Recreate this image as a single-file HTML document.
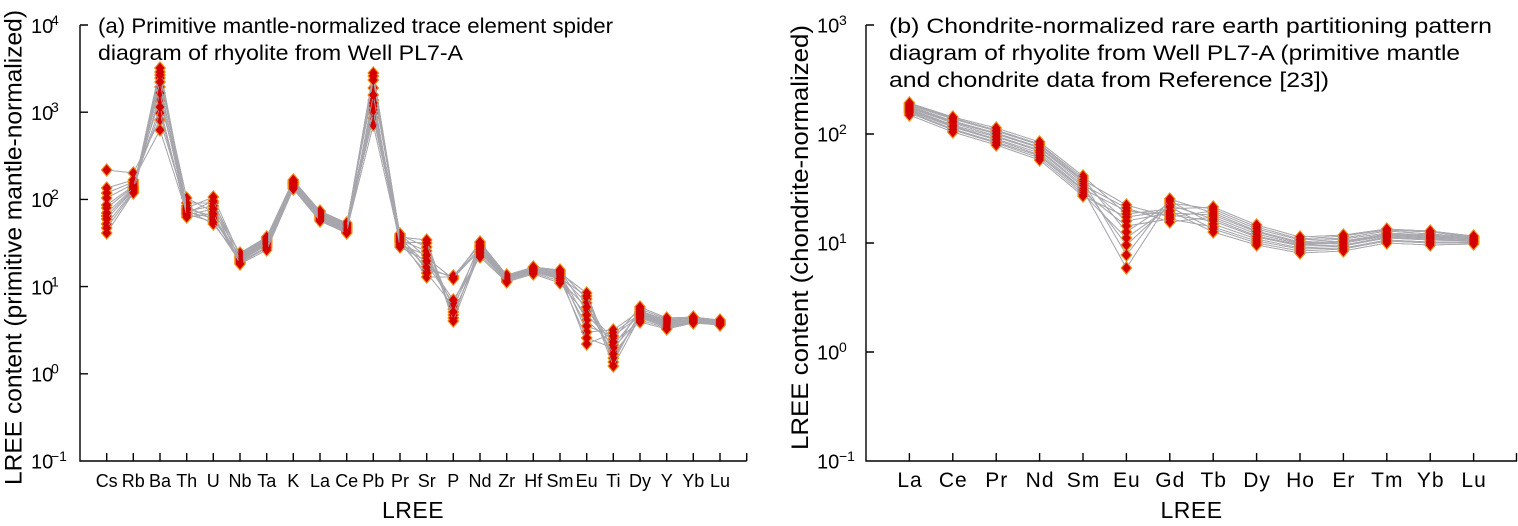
<!DOCTYPE html>
<html>
<head>
<meta charset="utf-8">
<style>
html,body{margin:0;padding:0;background:#fff;}
svg{display:block;}
text{font-family:"Liberation Sans",Arial,sans-serif;fill:#000;}
</style>
</head>
<body>
<svg width="1518" height="526" viewBox="0 0 1518 526" xmlns="http://www.w3.org/2000/svg">
<defs>
<marker id="mo" markerUnits="userSpaceOnUse" markerWidth="16" markerHeight="18" refX="8" refY="9" overflow="visible">
<path d="M8,2 L14,9 L8,16 L2,9Z" fill="#F28A12"/>
</marker>
<marker id="mr" markerUnits="userSpaceOnUse" markerWidth="16" markerHeight="18" refX="8" refY="9" overflow="visible">
<path d="M8,3.8 L12.4,9 L8,14.2 L3.6,9Z" fill="#D40000"/>
</marker>
</defs>

<!-- ============ LEFT PANEL ============ -->
<text x="98" y="33" font-size="21" textLength="515" lengthAdjust="spacingAndGlyphs">(a) Primitive mantle-normalized trace element spider</text>
<text x="98" y="60" font-size="21" textLength="365" lengthAdjust="spacingAndGlyphs">diagram of rhyolite from Well PL7-A</text>

<text transform="translate(21.7,485) rotate(-90)" font-size="24" textLength="475" lengthAdjust="spacingAndGlyphs">LREE content (primitive mantle-normalized)</text>
<text x="413" y="518" font-size="23" text-anchor="middle" letter-spacing="0.5">LREE</text>

<g stroke="#000" stroke-width="1.4" fill="none">
<path d="M80,25 V461 H746.7"/>
<path d="M80,25 h8 M80,112.2 h8 M80,199.4 h8 M80,286.6 h8 M80,373.8 h8"/>
<path d="M106.7,461 v-8 M133.3,461 v-8 M160,461 v-8 M186.7,461 v-8 M213.3,461 v-8 M240,461 v-8 M266.7,461 v-8 M293.3,461 v-8 M320,461 v-8 M346.7,461 v-8 M373.3,461 v-8 M400,461 v-8 M426.7,461 v-8 M453.3,461 v-8 M480,461 v-8 M506.7,461 v-8 M533.3,461 v-8 M560,461 v-8 M586.7,461 v-8 M613.3,461 v-8 M640,461 v-8 M666.7,461 v-8 M693.3,461 v-8 M720,461 v-8 M746.7,461 v-8"/>
</g>

<g font-size="20">
<text x="31" y="33">10</text><text x="51" y="25" font-size="14">4</text>
<text x="31" y="120">10</text><text x="51" y="112" font-size="14">3</text>
<text x="31" y="207">10</text><text x="51" y="199" font-size="14">2</text>
<text x="31" y="294.5">10</text><text x="51" y="286.5" font-size="14">1</text>
<text x="31" y="381.5">10</text><text x="51" y="373.5" font-size="14">0</text>
<text x="31" y="468.5">10</text><text x="51" y="461" font-size="14">−1</text>
</g>

<g font-size="18" text-anchor="middle">
<text x="106.7" y="487">Cs</text><text x="133.3" y="487">Rb</text><text x="160" y="487">Ba</text><text x="186.7" y="487">Th</text><text x="213.3" y="487">U</text><text x="240" y="487">Nb</text><text x="266.7" y="487">Ta</text><text x="293.3" y="487">K</text><text x="320" y="487">La</text><text x="346.7" y="487">Ce</text><text x="373.3" y="487">Pb</text><text x="400" y="487">Pr</text><text x="426.7" y="487">Sr</text><text x="453.3" y="487">P</text><text x="480" y="487">Nd</text><text x="506.7" y="487">Zr</text><text x="533.3" y="487">Hf</text><text x="560" y="487">Sm</text><text x="586.7" y="487">Eu</text><text x="613.3" y="487">Ti</text><text x="640" y="487">Dy</text><text x="666.7" y="487">Y</text><text x="693.3" y="487">Yb</text><text x="720" y="487">Lu</text>
</g>

<g id="L" fill="none" stroke="#A6A6AC" stroke-width="0.8">
<polyline points="106.7,208 133.3,187 160,78 186.7,198 213.3,212 240,253 266.7,237 293.3,180 320,211 346.7,223 373.3,88 400,234 426.7,258 453.3,279 480,242 506.7,275 533.3,267 560,270 586.7,311 613.3,339 640,307 666.7,318 693.3,317 720,320"/>
<polyline points="106.7,193 133.3,182 160,100 186.7,203 213.3,203 240,254 266.7,238 293.3,181 320,212 346.7,224 373.3,106 400,235 426.7,247 453.3,309 480,243 506.7,276 533.3,268 560,271 586.7,299 613.3,351 640,309 666.7,319 693.3,318 720,321"/>
<polyline points="106.7,224 133.3,191 160,68 186.7,206 213.3,220 240,255 266.7,239 293.3,182 320,213 346.7,225 373.3,73 400,236 426.7,270 453.3,276 480,245 506.7,276 533.3,268 560,272 586.7,332 613.3,330 640,311 666.7,320 693.3,318 720,321"/>
<polyline points="106.7,170 133.3,173 160,120 186.7,208 213.3,197 240,256 266.7,240 293.3,183 320,214 346.7,226 373.3,118 400,237 426.7,240 453.3,318 480,246 506.7,277 533.3,269 560,273 586.7,293 613.3,362 640,312 666.7,321 693.3,319 720,322"/>
<polyline points="106.7,216 133.3,189 160,87 186.7,209 213.3,216 240,257 266.7,241 293.3,183 320,215 346.7,227 373.3,100 400,238 426.7,264 453.3,303 480,247 506.7,277 533.3,269 560,274 586.7,320 613.3,345 640,313 666.7,322 693.3,319 720,322"/>
<polyline points="106.7,233 133.3,193 160,72 186.7,210 213.3,224 240,258 266.7,242 293.3,184 320,216 346.7,228 373.3,76 400,239 426.7,277 453.3,277 480,248 506.7,278 533.3,270 560,275 586.7,344 613.3,333 640,314 666.7,323 693.3,320 720,323"/>
<polyline points="106.7,198 133.3,184 160,113 186.7,211 213.3,206 240,259 266.7,243 293.3,185 320,216 346.7,228 373.3,113 400,240 426.7,251 453.3,315 480,249 506.7,278 533.3,270 560,276 586.7,303 613.3,358 640,315 666.7,324 693.3,320 720,323"/>
<polyline points="106.7,219 133.3,190 160,75 186.7,212 213.3,218 240,260 266.7,244 293.3,185 320,217 346.7,229 373.3,80 400,241 426.7,267 453.3,278 480,250 506.7,279 533.3,271 560,277 586.7,326 613.3,336 640,316 666.7,325 693.3,321 720,323"/>
<polyline points="106.7,188 133.3,180 160,130 186.7,213 213.3,201 240,261 266.7,245 293.3,186 320,218 346.7,230 373.3,125 400,242 426.7,243 453.3,321 480,252 506.7,279 533.3,271 560,278 586.7,296 613.3,366 640,317 666.7,326 693.3,321 720,324"/>
<polyline points="106.7,228 133.3,192 160,93 186.7,214 213.3,222 240,262 266.7,247 293.3,187 320,219 346.7,231 373.3,103 400,243 426.7,273 453.3,306 480,253 506.7,280 533.3,272 560,279 586.7,338 613.3,348 640,318 666.7,327 693.3,322 720,324"/>
<polyline points="106.7,205 133.3,186 160,107 186.7,215 213.3,209 240,263 266.7,248 293.3,188 320,220 346.7,232 373.3,110 400,245 426.7,255 453.3,312 480,255 506.7,281 533.3,273 560,281 586.7,307 613.3,354 640,320 666.7,328 693.3,322 720,325"/>
<polyline points="106.7,213 133.3,188 160,82 186.7,217 213.3,214 240,264 266.7,250 293.3,189 320,221 346.7,233 373.3,95 400,247 426.7,261 453.3,300 480,257 506.7,282 533.3,274 560,283 586.7,315 613.3,342 640,322 666.7,329 693.3,323 720,325"/>
</g>

<!-- ============ RIGHT PANEL ============ -->
<text x="889" y="33" font-size="21" textLength="603" lengthAdjust="spacingAndGlyphs">(b) Chondrite-normalized rare earth partitioning pattern</text>
<text x="889" y="60" font-size="21" textLength="571" lengthAdjust="spacingAndGlyphs">diagram of rhyolite from Well PL7-A (primitive mantle</text>
<text x="889" y="87" font-size="21" textLength="440" lengthAdjust="spacingAndGlyphs">and chondrite data from Reference [23])</text>

<text transform="translate(808,450) rotate(-90)" font-size="24" textLength="425" lengthAdjust="spacingAndGlyphs">LREE content (chondrite-normalized)</text>
<text x="1191.5" y="518" font-size="23" text-anchor="middle" letter-spacing="0.5">LREE</text>

<g stroke="#000" stroke-width="1.4" fill="none">
<path d="M866,25 V461 H1517"/>
<path d="M866,25 h8 M866,134 h8 M866,243 h8 M866,352 h8"/>
<path d="M909.4,461 v-8 M952.8,461 v-8 M996.2,461 v-8 M1039.6,461 v-8 M1083,461 v-8 M1126.4,461 v-8 M1169.8,461 v-8 M1213.2,461 v-8 M1256.6,461 v-8 M1300,461 v-8 M1343.4,461 v-8 M1386.8,461 v-8 M1430.2,461 v-8 M1473.6,461 v-8 M1516.5,461 v-8"/>
</g>

<g font-size="20">
<text x="817" y="32.5">10</text><text x="839" y="25" font-size="14">3</text>
<text x="817" y="141.5">10</text><text x="839" y="134" font-size="14">2</text>
<text x="817" y="250.5">10</text><text x="839" y="243" font-size="14">1</text>
<text x="817" y="359.5">10</text><text x="839" y="352" font-size="14">0</text>
<text x="817" y="468.5">10</text><text x="839" y="461" font-size="14">−1</text>
</g>

<g font-size="21" text-anchor="middle" letter-spacing="1">
<text x="910" y="487">La</text><text x="953.3" y="487">Ce</text><text x="996.7" y="487">Pr</text><text x="1040.1" y="487">Nd</text><text x="1083.5" y="487">Sm</text><text x="1126.9" y="487">Eu</text><text x="1170.3" y="487">Gd</text><text x="1213.7" y="487">Tb</text><text x="1257.1" y="487">Dy</text><text x="1300.5" y="487">Ho</text><text x="1343.9" y="487">Er</text><text x="1387.3" y="487">Tm</text><text x="1430.7" y="487">Yb</text><text x="1474.1" y="487">Lu</text>
</g>

<g id="R" fill="none" stroke="#A6A6AC" stroke-width="0.8">
<polyline points="909.4,103 952.8,117 996.2,128 1039.6,142 1083,176 1126.4,214 1169.8,209 1213.2,207 1256.6,225 1300,237 1343.4,235 1386.8,229 1430.2,231 1473.6,236"/>
<polyline points="909.4,104 952.8,118 996.2,130 1039.6,144 1083,178 1126.4,232 1169.8,203 1213.2,209 1256.6,227 1300,239 1343.4,236 1386.8,230 1430.2,232 1473.6,237"/>
<polyline points="909.4,105 952.8,119 996.2,131 1039.6,145 1083,180 1126.4,205 1169.8,217 1213.2,211 1256.6,229 1300,240 1343.4,238 1386.8,231 1430.2,234 1473.6,237"/>
<polyline points="909.4,106 952.8,121 996.2,133 1039.6,147 1083,181 1126.4,255 1169.8,199 1213.2,213 1256.6,231 1300,242 1343.4,239 1386.8,233 1430.2,235 1473.6,238"/>
<polyline points="909.4,107 952.8,122 996.2,134 1039.6,148 1083,183 1126.4,221 1169.8,213 1213.2,215 1256.6,232 1300,243 1343.4,241 1386.8,234 1430.2,236 1473.6,239"/>
<polyline points="909.4,108 952.8,123 996.2,136 1039.6,150 1083,185 1126.4,208 1169.8,222 1213.2,217 1256.6,234 1300,244 1343.4,242 1386.8,235 1430.2,237 1473.6,239"/>
<polyline points="909.4,109 952.8,125 996.2,137 1039.6,151 1083,187 1126.4,245 1169.8,205 1213.2,219 1256.6,236 1300,245 1343.4,243 1386.8,236 1430.2,238 1473.6,240"/>
<polyline points="909.4,110 952.8,126 996.2,139 1039.6,153 1083,189 1126.4,211 1169.8,215 1213.2,221 1256.6,237 1300,246 1343.4,245 1386.8,237 1430.2,239 1473.6,241"/>
<polyline points="909.4,111 952.8,127 996.2,140 1039.6,155 1083,190 1126.4,268 1169.8,201 1213.2,224 1256.6,239 1300,248 1343.4,246 1386.8,238 1430.2,240 1473.6,241"/>
<polyline points="909.4,112 952.8,129 996.2,142 1039.6,156 1083,192 1126.4,226 1169.8,219 1213.2,227 1256.6,241 1300,249 1343.4,248 1386.8,240 1430.2,242 1473.6,242"/>
<polyline points="909.4,113 952.8,130 996.2,143 1039.6,158 1083,194 1126.4,238 1169.8,207 1213.2,229 1256.6,243 1300,251 1343.4,249 1386.8,241 1430.2,243 1473.6,243"/>
<polyline points="909.4,115 952.8,132 996.2,145 1039.6,160 1083,196 1126.4,217 1169.8,211 1213.2,232 1256.6,245 1300,253 1343.4,251 1386.8,243 1430.2,245 1473.6,244"/>
</g>

<!-- orange pass, then red pass -->
<use href="#L" stroke="none" marker-start="url(#mo)" marker-mid="url(#mo)" marker-end="url(#mo)"/>
<use href="#R" stroke="none" marker-start="url(#mo)" marker-mid="url(#mo)" marker-end="url(#mo)"/>
<use href="#L" stroke="none" marker-start="url(#mr)" marker-mid="url(#mr)" marker-end="url(#mr)"/>
<use href="#R" stroke="none" marker-start="url(#mr)" marker-mid="url(#mr)" marker-end="url(#mr)"/>
</svg>
</body>
</html>
